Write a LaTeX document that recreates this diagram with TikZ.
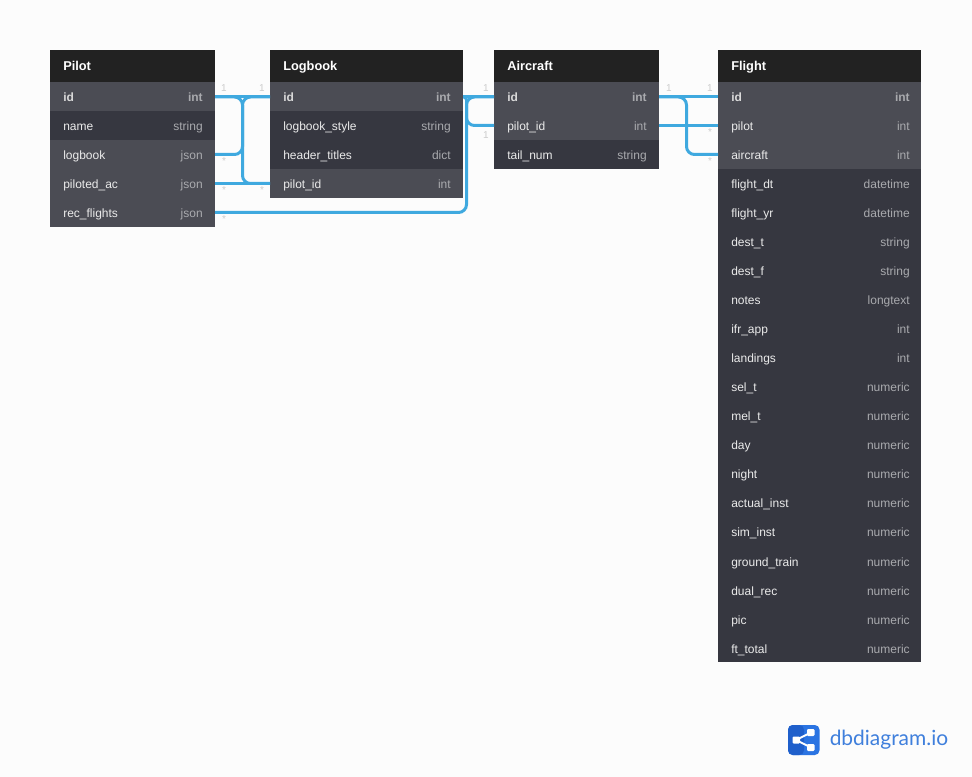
\documentclass[tikz,border=0pt]{standalone}
\usepackage{fontspec}
\setmainfont{Liberation Sans}
\newfontfamily\logofont{Lato}
\usetikzlibrary{positioning}

\definecolor{pagebg}{HTML}{FCFCFC}
\definecolor{headbg}{HTML}{222222}
\definecolor{rowlt}{HTML}{4B4C54}
\definecolor{rowdk}{HTML}{363740}
\definecolor{typegray}{HTML}{A9AAAE}
\definecolor{relblue}{HTML}{3FA9DF}
\definecolor{cardgray}{HTML}{CCCCCC}
\definecolor{logoblue}{HTML}{2B74E2}
\definecolor{logodark}{HTML}{1F5FCB}
\definecolor{logotext}{HTML}{3F7FDC}

\begin{document}
\begin{tikzpicture}[
  x=0.75pt, y=-0.75pt,
  % Table styles
  head/.style={fill=headbg, anchor=north west, minimum height=24pt, inner sep=0pt, outer sep=0pt},
  row/.style={anchor=north west, minimum height=21.75pt, inner sep=0pt, outer sep=0pt},
  lt/.style={row, fill=rowlt},
  dk/.style={row, fill=rowdk},
  % Text styles
  title/.style={anchor=west, text=white, inner sep=0pt, text height=9.5pt, text depth=2pt,
                font=\fontsize{9.6pt}{11pt}\selectfont\bfseries},
  fld/.style={anchor=west, text=white!92!black, inner sep=0pt, text height=9.5pt, text depth=2pt,
              font=\fontsize{9pt}{11pt}\selectfont},
  key/.style={fld, text=white!85!black, font=\fontsize{9pt}{11pt}\selectfont\bfseries},
  typ/.style={anchor=east, text=typegray, inner sep=0pt, text height=9.5pt, text depth=2pt,
              font=\fontsize{9pt}{11pt}\selectfont},
  keytyp/.style={typ, font=\fontsize{9pt}{11pt}\selectfont\bfseries},
  % Connector styles
  rel/.style={draw=relblue, line width=2.25pt, rounded corners=6pt},
  card/.style={text=cardgray, inner sep=0pt, font=\fontsize{7.5pt}{9pt}\selectfont},
]

\fill[pagebg] (0,0) rectangle (972,777);
\useasboundingbox (0,0) rectangle (972,777);

% === Pilot ===
\node[head, minimum width=123.75pt] (Pilot) at (50,50) {};
\node[title] (PilotT) at (63,66) {Pilot};
\node[lt, minimum width=123.75pt] (Pid) at (50,82) {};
\node[dk, minimum width=123.75pt] (Pname) at (50,111) {};
\node[lt, minimum width=123.75pt] (Plog) at (50,140) {};
\node[lt, minimum width=123.75pt] (Pac) at (50,169) {};
\node[lt, minimum width=123.75pt] (Prec) at (50,198) {};
\foreach \n/\t/\y in {name/string/111, logbook/json/140, piloted\_ac/json/169, rec\_flights/json/198} {
  \node[fld] at (63,\y+15) {\n};
  \node[typ] at (203,\y+15) {\t};
}
\node[key] at (63,97) {id};
\node[keytyp] at (203,97) {int};

% === Logbook ===
\node[head, minimum width=144.75pt] (Logbook) at (270,50) {};
\node[title] (LogbookT) at (283,66) {Logbook};
\node[lt, minimum width=144.75pt] (Lid) at (270,82) {};
\node[dk, minimum width=144.75pt] (Lstyle) at (270,111) {};
\node[dk, minimum width=144.75pt] (Ltitles) at (270,140) {};
\node[lt, minimum width=144.75pt] (Lpilot) at (270,169) {};
\foreach \n/\t/\y in {logbook\_style/string/111, header\_titles/dict/140, pilot\_id/int/169} {
  \node[fld] at (283,\y+15) {\n};
  \node[typ] at (451,\y+15) {\t};
}
\node[key] at (283,97) {id};
\node[keytyp] at (451,97) {int};

% === Aircraft ===
\node[head, minimum width=123.75pt] (Aircraft) at (494,50) {};
\node[title] (AircraftT) at (507,66) {Aircraft};
\node[lt, minimum width=123.75pt] (Aid) at (494,82) {};
\node[lt, minimum width=123.75pt] (Apilot) at (494,111) {};
\node[dk, minimum width=123.75pt] (Atail) at (494,140) {};
\foreach \n/\t/\y in {pilot\_id/int/111, tail\_num/string/140} {
  \node[fld] at (507,\y+15) {\n};
  \node[typ] at (647,\y+15) {\t};
}
\node[key] at (507,97) {id};
\node[keytyp] at (647,97) {int};

% === Flight ===
\node[head, minimum width=152.6pt] (Flight) at (718,50) {};
\node[title] (FlightT) at (731,66) {Flight};
\node[lt, minimum width=152.6pt] (Fid) at (718,82) {};
\node[lt, minimum width=152.6pt] (Fpilot) at (718,111) {};
\node[lt, minimum width=152.6pt] (Fac) at (718,140) {};
\foreach \n/\t [count=\i from 0] in {flight\_dt/datetime, flight\_yr/datetime, dest\_t/string,
    dest\_f/string, notes/longtext, ifr\_app/int, landings/int, sel\_t/numeric, mel\_t/numeric,
    day/numeric, night/numeric, actual\_inst/numeric, sim\_inst/numeric, ground\_train/numeric,
    dual\_rec/numeric, pic/numeric, ft\_total/numeric} {
  \node[dk, minimum width=152.6pt] (F\i) at (718,169+29*\i) {};
  \node[fld] at (731,184+29*\i) {\n};
  \node[typ] at (910,184+29*\i) {\t};
}
\node[key] at (731,97) {id};
\node[keytyp] at (910,97) {int};
\node[fld] at (731,126) {pilot};
\node[typ] at (910,126) {int};
\node[fld] at (731,155) {aircraft};
\node[typ] at (910,155) {int};

% === Connectors ===
\coordinate (busA) at (242.5,97);
\coordinate (busB) at (466.5,97);
\coordinate (busC) at (686.5,97);
\draw[rel] (Pid.east |- busA) -- (Lid.west |- busA);
\draw[rel] (Pid.east |- busA) -| (busA |- Pac.east) -- (Lpilot.west);
\draw[rel] (Plog.east) -| (busA) -- (Lid.west |- busA);
\draw[rel] (Pac.east) -- (Lpilot.west);
\draw[rel] (Lid.east |- busB) -- (Aid.west |- busB);
\draw[rel, rounded corners=2.2pt] (Lid.east |- busB) -- (busB)
  [rounded corners=6pt] -- (busB |- Apilot.west) -- (Apilot.west);
\draw[rel] (Prec.east) -| (busB) -- (Aid.west |- busB);
\draw[rel] (Aid.east |- busC) -- (Fid.west |- busC);
\draw[rel] (Apilot.east) -- (Fpilot.west);
\draw[rel] (Aid.east |- busC) -| (busC |- Fac.west) -- (Fac.west);

% === Cardinality marks ===
\foreach \x/\y in {224/88, 262/88, 486/88, 486/135, 669/88, 710/88}
  \node[card] at (\x,\y) {1};
\foreach \x/\y in {224/161, 224/190, 262/190, 224/219, 710/132, 710/161}
  \node[card] at (\x,\y) {*};

% === Logo ===
\fill[logoblue, rounded corners=3.5pt] (788,725) rectangle (819.5,755);
\fill[logodark, rounded corners=3.5pt] (788,725) rectangle (804,755);
\draw[white, line width=1.5pt] (811,732.5) -- (796,740) -- (811,747.5);
\fill[white, rounded corners=0.8pt] (792.5,736.5) rectangle (800,743.5);
\fill[white, rounded corners=0.8pt] (807,729) rectangle (814.5,736);
\fill[white, rounded corners=0.8pt] (807,744) rectangle (814.5,751);
\node[anchor=west, inner sep=0pt, text=logotext, font=\logofont\fontsize{15.7pt}{18pt}\selectfont] (logo) at (829.5,740) {dbdiagram.io};

\end{tikzpicture}
\end{document}
